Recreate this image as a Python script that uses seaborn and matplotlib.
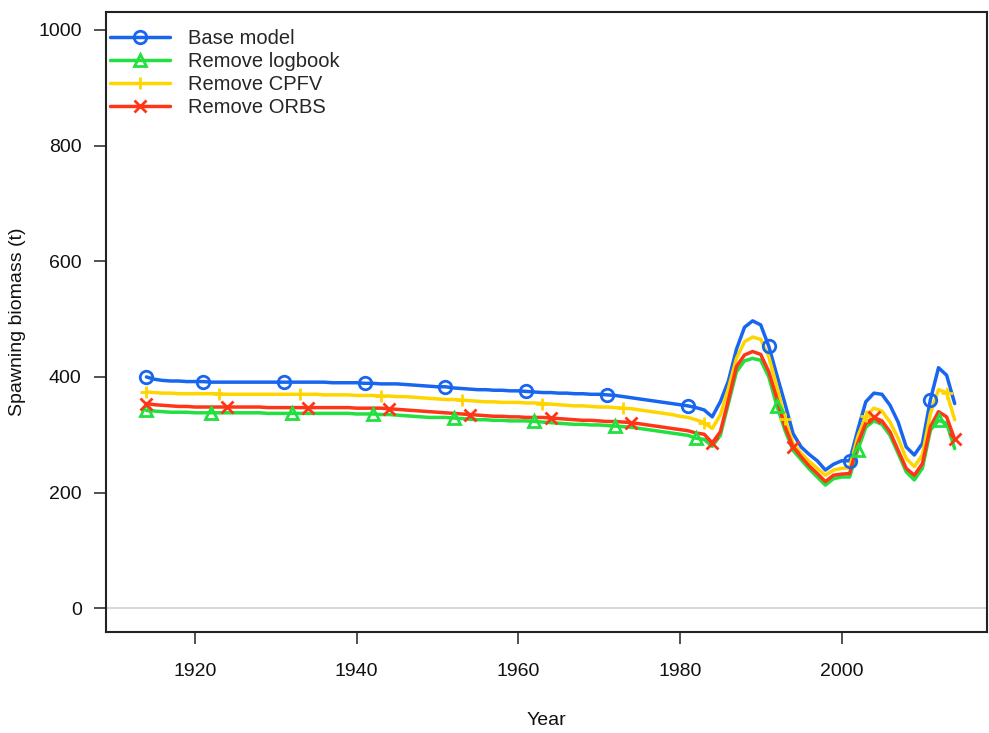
import numpy as np
import pandas as pd
import matplotlib
matplotlib.use('Agg')
import matplotlib.pyplot as plt
import seaborn as sns
from matplotlib.lines import Line2D

# ================= DATA =================
years = list(range(1914, 2015))

base_model = [
    400, 396, 394, 393, 393, 392, 392, 392, 391, 391,
    391, 391, 391, 391, 391, 391, 391, 391, 391, 391,
    391, 391, 391, 390, 390, 390, 390, 389, 389, 388,
    388, 388, 387, 386, 385, 384, 383, 383, 381, 380,
    379, 378, 378, 377, 377, 376, 376, 375, 374, 373,
    373, 372, 372, 371, 371, 370, 370, 369, 368, 366,
    364, 362, 360, 358, 356, 354, 352, 350, 347, 343,
    331, 357, 393, 448, 486, 497, 490, 453, 403, 354,
    302, 279, 266, 255, 239, 249, 255, 255, 308, 357,
    372, 370, 351, 322, 279, 265, 285, 361, 416, 403,
    354,
]
remove_logbook = [
    342, 341, 340, 339, 339, 339, 338, 338, 338, 338,
    338, 338, 338, 338, 338, 337, 337, 337, 337, 337,
    337, 337, 337, 337, 337, 337, 336, 336, 336, 335,
    335, 334, 333, 332, 331, 330, 330, 330, 329, 328,
    327, 326, 326, 325, 325, 324, 324, 324, 323, 322,
    321, 320, 319, 318, 318, 317, 317, 316, 315, 314,
    313, 311, 309, 307, 305, 303, 301, 299, 294, 292,
    280, 299, 354, 409, 428, 432, 429, 400, 350, 308,
    273, 257, 241, 227, 213, 224, 227, 227, 273, 313,
    324, 318, 299, 268, 236, 222, 242, 308, 325, 320,
    276,
]
remove_cpfv = [
    374, 373, 372, 372, 371, 371, 371, 371, 371, 371,
    370, 370, 370, 370, 370, 370, 370, 370, 370, 370,
    370, 370, 369, 369, 369, 369, 368, 368, 368, 367,
    367, 366, 366, 365, 364, 363, 362, 361, 361, 360,
    359, 358, 357, 357, 356, 356, 356, 355, 355, 354,
    353, 352, 351, 350, 350, 349, 348, 348, 347, 346,
    345, 343, 341, 339, 337, 335, 332, 330, 326, 321,
    311, 334, 380, 432, 461, 469, 465, 435, 383, 328,
    285, 268, 254, 242, 230, 239, 242, 243, 296, 332,
    346, 341, 322, 294, 259, 245, 265, 337, 378, 373,
    326,
]
remove_orbs = [
    354, 352, 351, 350, 349, 349, 348, 348, 348, 348,
    348, 348, 348, 348, 348, 347, 347, 347, 347, 347,
    347, 347, 347, 347, 347, 347, 346, 346, 346, 346,
    345, 344, 343, 342, 341, 340, 339, 338, 337, 336,
    335, 334, 333, 332, 332, 331, 331, 330, 330, 330,
    329, 328, 327, 326, 325, 325, 324, 323, 323, 322,
    321, 319, 317, 315, 313, 311, 309, 307, 303, 301,
    286, 305, 360, 418, 438, 444, 439, 409, 363, 314,
    279, 262, 246, 233, 219, 230, 232, 233, 285, 320,
    330, 324, 305, 273, 242, 230, 250, 314, 340, 331,
    292,
]

models = ['Base model', 'Remove logbook', 'Remove CPFV', 'Remove ORBS']
series = [base_model, remove_logbook, remove_cpfv, remove_orbs]

# years where the point symbols sit on each line
marker_years = [
    [1914, 1921, 1931, 1941, 1951, 1961, 1971, 1981, 1991, 2001, 2011],
    [1914, 1922, 1932, 1942, 1952, 1962, 1972, 1982, 1992, 2002, 2012],
    [1914, 1923, 1933, 1943, 1953, 1963, 1973, 1983, 1993, 2003, 2013],
    [1914, 1924, 1934, 1944, 1954, 1964, 1974, 1984, 1994, 2004, 2014],
]

colors = ['#1866F0', '#22E040', '#FFD500', '#FF3518']
symbols = ['o', '^', '+', 'x']

# ================= PLOT =================
sns.set_style('white')
plt.rcParams['font.family'] = ['Liberation Sans', 'DejaVu Sans']

df = pd.DataFrame({
    'Year': years * len(models),
    'Biomass': sum(series, []),
    'Model': [m for m in models for _ in years],
})

fig = plt.figure(figsize=(9.89, 7.33), dpi=100)
ax = fig.add_axes([0.1072, 0.1378, 0.8908, 0.8458])

ax.axhline(0, color='#d0d0d0', lw=1.2, zorder=0)

sns.lineplot(data=df, x='Year', y='Biomass', hue='Model', hue_order=models,
             palette=colors, linewidth=2.5, legend=False, ax=ax,
             estimator=None, sort=False)

handles = []
for m, c, s, yrs in zip(models, colors, symbols, marker_years):
    sub = df[(df['Model'] == m) & (df['Year'].isin(yrs))]
    ax.plot(sub['Year'], sub['Biomass'], ls='none', marker=s, ms=9,
            mfc='none', mec=c, mew=2.0, zorder=3)
    handles.append(Line2D([], [], color=c, lw=2.5, marker=s, ms=9,
                          mfc='none', mec=c, mew=2.0))

ax.set_xlim(1909, 2018)
ax.set_ylim(-41, 1031)
ax.set_xticks([1920, 1940, 1960, 1980, 2000])
ax.set_yticks([0, 200, 400, 600, 800, 1000])
ax.tick_params(axis='both', direction='out', length=8.5, width=1.1,
               labelsize=14, color='#222222', labelcolor='#111111',
               left=True, bottom=True)
ax.tick_params(axis='x', pad=14)
ax.tick_params(axis='y', pad=9)
for sp in ax.spines.values():
    sp.set_color('#222222')
    sp.set_linewidth(1.5)

ax.set_xlabel('Year', fontsize=14, labelpad=23, color='#111111')
ax.set_ylabel('Spawning biomass (t)', fontsize=14, labelpad=9, color='#111111')

ax.legend(handles, models, loc='upper left', bbox_to_anchor=(0.004, 0.972),
          frameon=False, fontsize=14.5, handlelength=3.0, handletextpad=0.9,
          labelspacing=0.2, borderpad=0, borderaxespad=0)

plt.savefig('out.png', dpi=100)
